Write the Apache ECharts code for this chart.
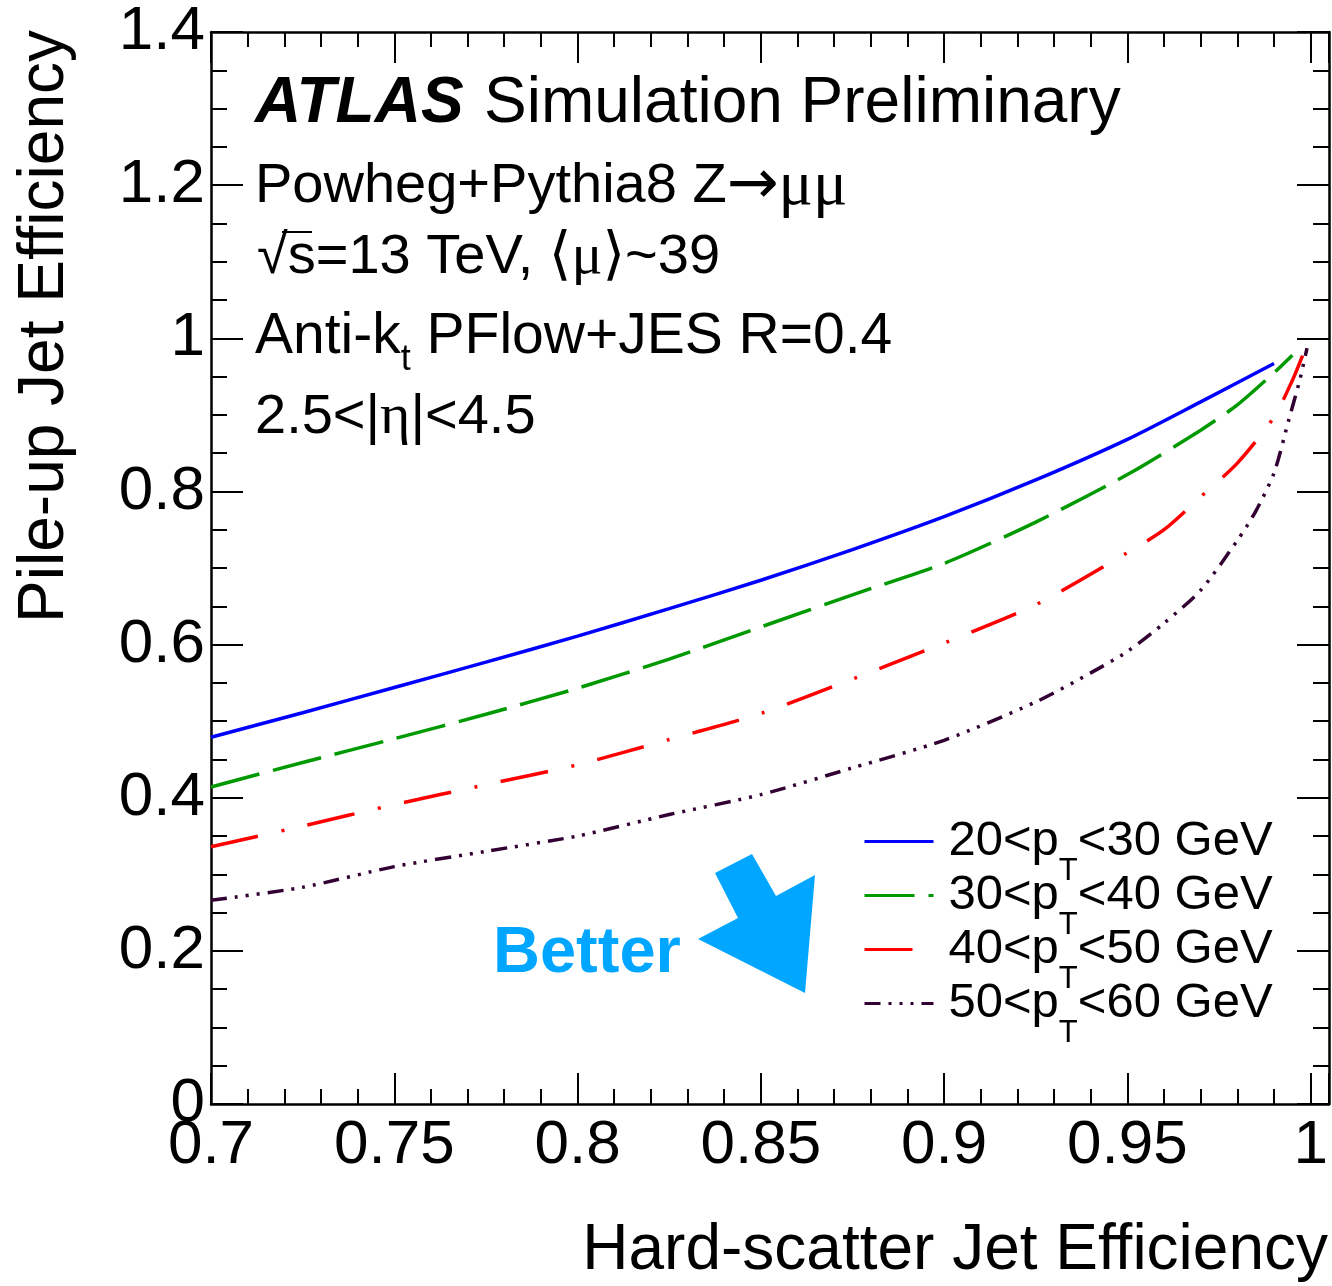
<!DOCTYPE html>
<html>
<head>
<meta charset="UTF-8">
<title>Pile-up Jet Efficiency vs Hard-scatter Jet Efficiency</title>
<script src="https://cdn.jsdelivr.net/npm/echarts@6/dist/echarts.min.js"></script>
<style>html,body{margin:0;padding:0;background:#fff}</style>
</head>
<body>
<div id="main" style="width:1332px;height:1286px;"></div>
<script>
// ROC-like curves, one per pT bin
var xBlue   = [0.70, 0.725, 0.75, 0.775, 0.80, 0.825, 0.85, 0.875, 0.90, 0.925, 0.95, 0.97, 0.99];
var yBlue   = [0.479, 0.511, 0.544, 0.577, 0.611, 0.647, 0.684, 0.724, 0.767, 0.815, 0.868, 0.917, 0.967];
var xGreen  = [0.70, 0.725, 0.75, 0.775, 0.80, 0.825, 0.85, 0.875, 0.90, 0.925, 0.95, 0.97, 0.98, 0.99, 0.995];
var yGreen  = [0.414, 0.446, 0.477, 0.509, 0.543, 0.581, 0.623, 0.665, 0.706, 0.760, 0.822, 0.880, 0.913, 0.955, 0.978];
var xRed    = [0.70, 0.725, 0.75, 0.775, 0.80, 0.825, 0.85, 0.875, 0.90, 0.925, 0.95, 0.96, 0.97, 0.98, 0.99, 0.995, 0.998];
var yRed    = [0.336, 0.363, 0.391, 0.417, 0.443, 0.476, 0.510, 0.555, 0.602, 0.652, 0.720, 0.750, 0.793, 0.837, 0.897, 0.945, 0.980];
var xPurple = [0.70, 0.725, 0.75, 0.775, 0.80, 0.825, 0.85, 0.875, 0.90, 0.925, 0.94, 0.95, 0.96, 0.97, 0.98, 0.985, 0.99, 0.994, 0.997, 0.999];
var yPurple = [0.266, 0.283, 0.310, 0.330, 0.350, 0.378, 0.404, 0.439, 0.475, 0.525, 0.563, 0.591, 0.628, 0.671, 0.736, 0.774, 0.824, 0.893, 0.945, 0.987];

var seriesNames = ['20<p_T<30 GeV', '30<p_T<40 GeV', '40<p_T<50 GeV', '50<p_T<60 GeV'];
var xTitle = 'Hard-scatter Jet Efficiency';
var yTitle = 'Pile-up Jet Efficiency';

var SANS = '"Liberation Sans", Arial, sans-serif';
var SERIF = '"Liberation Serif", "DejaVu Serif", serif';

function pairs(xs, ys) {
    return xs.map(function (x, i) { return [x, ys[i]]; });
}

var myChart = echarts.init(document.getElementById('main'));

function xAxisCfg(pos, step, tickLen, showLine, showLabel) {
    return {
        type: 'value', position: pos, min: 0.7, max: 1.005, interval: step,
        axisLine: { show: showLine, onZero: false, lineStyle: { color: '#000', width: 2.5 } },
        axisTick: { show: true, inside: true, length: tickLen, lineStyle: { color: '#000', width: 2 } },
        axisLabel: {
            show: showLabel, margin: 11, color: '#000', fontSize: 62, fontFamily: SANS,
            formatter: function (v) {
                var k = v / 0.05;
                if (Math.abs(k - Math.round(k)) > 1e-6) return '';
                return String(+v.toFixed(2));
            }
        },
        splitLine: { show: false }
    };
}

function yAxisCfg(pos, showLabel) {
    return {
        type: 'value', position: pos, min: 0, max: 1.4, interval: 0.2,
        axisLine: { show: true, onZero: false, lineStyle: { color: '#000', width: 2.5 } },
        axisTick: { show: true, inside: true, length: 32, lineStyle: { color: '#000', width: 2 } },
        minorTick: { show: true, splitNumber: 4, length: 16, lineStyle: { color: '#000', width: 2 } },
        axisLabel: {
            show: showLabel, margin: 6, color: '#000', fontSize: 62, fontFamily: SANS,
            formatter: function (v) { return String(+v.toFixed(1)); }
        },
        splitLine: { show: false }
    };
}

function lineSeries(name, data, color, dash) {
    return {
        name: name, type: 'line', data: data,
        xAxisIndex: 0, yAxisIndex: 0,
        showSymbol: false, symbol: 'none', smooth: 0.25,
        lineStyle: { color: color, width: 3.5, type: dash },
        itemStyle: { color: color }
    };
}

var option = {
    animation: false,
    backgroundColor: '#fff',
    grid: { left: 211, top: 32, right: 3, bottom: 182, containLabel: false },
    xAxis: [
        xAxisCfg('bottom', 0.05, 31, true, true),
        xAxisCfg('bottom', 0.01, 15, false, false),
        xAxisCfg('top', 0.05, 31, true, false),
        xAxisCfg('top', 0.01, 15, false, false)
    ],
    yAxis: [
        yAxisCfg('left', true),
        yAxisCfg('right', false)
    ],
    legend: {
        orient: 'vertical', left: 858, top: 812, itemWidth: 69, itemHeight: 14, itemGap: -16,
        data: seriesNames,
        itemStyle: { opacity: 0 },
        lineStyle: { width: 3 },
        formatter: function (name) {
            var p = name.split('_T');
            return '{a|' + p[0] + '}{s|T}{m|' + p[1] + '}';
        },
        textStyle: {
            color: '#000',
            rich: {
                a: { fontSize: 49, fontFamily: SANS, color: '#000', padding: [0, 0, 0, 10] },
                m: { fontSize: 49, fontFamily: SANS, color: '#000' },
                s: { fontSize: 31, fontFamily: SANS, color: '#000', padding: [60, 0, 0, 0] }
            }
        }
    },
    series: [
        lineSeries(seriesNames[0], pairs(xBlue, yBlue), '#0000ff', 'solid'),
        lineSeries(seriesNames[1], pairs(xGreen, yGreen), '#009a00', [50, 14]),
        lineSeries(seriesNames[2], pairs(xRed, yRed), '#ff0000', [48, 24, 3, 24]),
        lineSeries(seriesNames[3], pairs(xPurple, yPurple), '#330033', [16, 8, 3, 8, 3, 8, 3, 8])
    ],
    graphic: [
        { type: 'text', x: 255, y: 104, style: { text: 'ATLAS', font: 'italic bold 64px ' + SANS, fill: '#000', verticalAlign: 'middle', textVerticalAlign: 'middle' } },
        { type: 'text', x: 484, y: 104, style: { text: 'Simulation Preliminary', font: '64px ' + SANS, fill: '#000', verticalAlign: 'middle', textVerticalAlign: 'middle' } },
        { type: 'text', x: 255, y: 187, style: {
            text: '{m|Powheg+Pythia8 Z}{a|\u2192}{g|\u03bc\u03bc}', fill: '#000', verticalAlign: 'middle', textVerticalAlign: 'middle',
            rich: { m: { fontSize: 56, fontFamily: SANS }, a: { fontSize: 62, fontFamily: 'DejaVu Sans' }, g: { fontSize: 64, fontFamily: SERIF } } } },
        { type: 'text', x: 257, y: 258, style: {
            text: '{m|\u221as=13 TeV, }{g|\u27e8\u03bc\u27e9}{m|~39}', fill: '#000', verticalAlign: 'middle', textVerticalAlign: 'middle',
            rich: { m: { fontSize: 56, fontFamily: SANS }, g: { fontSize: 58, fontFamily: SERIF } } } },
        { type: 'line', shape: { x1: 282, y1: 232, x2: 312, y2: 232 }, style: { stroke: '#000', lineWidth: 2 } },
        { type: 'text', x: 255, y: 337, style: {
            text: '{m|Anti-k}{s|t}{m| PFlow+JES R=0.4}', fill: '#000', verticalAlign: 'middle', textVerticalAlign: 'middle',
            rich: { m: { fontSize: 57, fontFamily: SANS }, s: { fontSize: 36, fontFamily: SANS, padding: [47, 0, 0, 0] } } } },
        { type: 'text', x: 255, y: 418, style: {
            text: '{m|2.5<|}{g|\u03b7}{m||<4.5}', fill: '#000', verticalAlign: 'middle', textVerticalAlign: 'middle',
            rich: { m: { fontSize: 56, fontFamily: SANS }, g: { fontSize: 58, fontFamily: SERIF } } } },
        { type: 'text', x: 493, y: 954, style: { text: 'Better', font: 'bold 65px ' + SANS, fill: '#00a6ff', verticalAlign: 'middle', textVerticalAlign: 'middle' } },
        { type: 'polygon', shape: { points: [[715, 873], [752, 854], [776, 896], [815, 875], [805, 993], [698, 939], [738, 918]] }, style: { fill: '#00a6ff' } },
        { type: 'text', x: 1328, y: 1251, style: { text: xTitle, font: '64px ' + SANS, fill: '#000', align: 'right', textAlign: 'right', verticalAlign: 'middle', textVerticalAlign: 'middle' } },
        { type: 'text', x: 45, y: 30, rotation: Math.PI / 2, style: { text: yTitle, font: '64px ' + SANS, fill: '#000', align: 'right', textAlign: 'right', verticalAlign: 'middle', textVerticalAlign: 'middle' } }
    ]
};

myChart.setOption(option);
</script>
</body>
</html>
